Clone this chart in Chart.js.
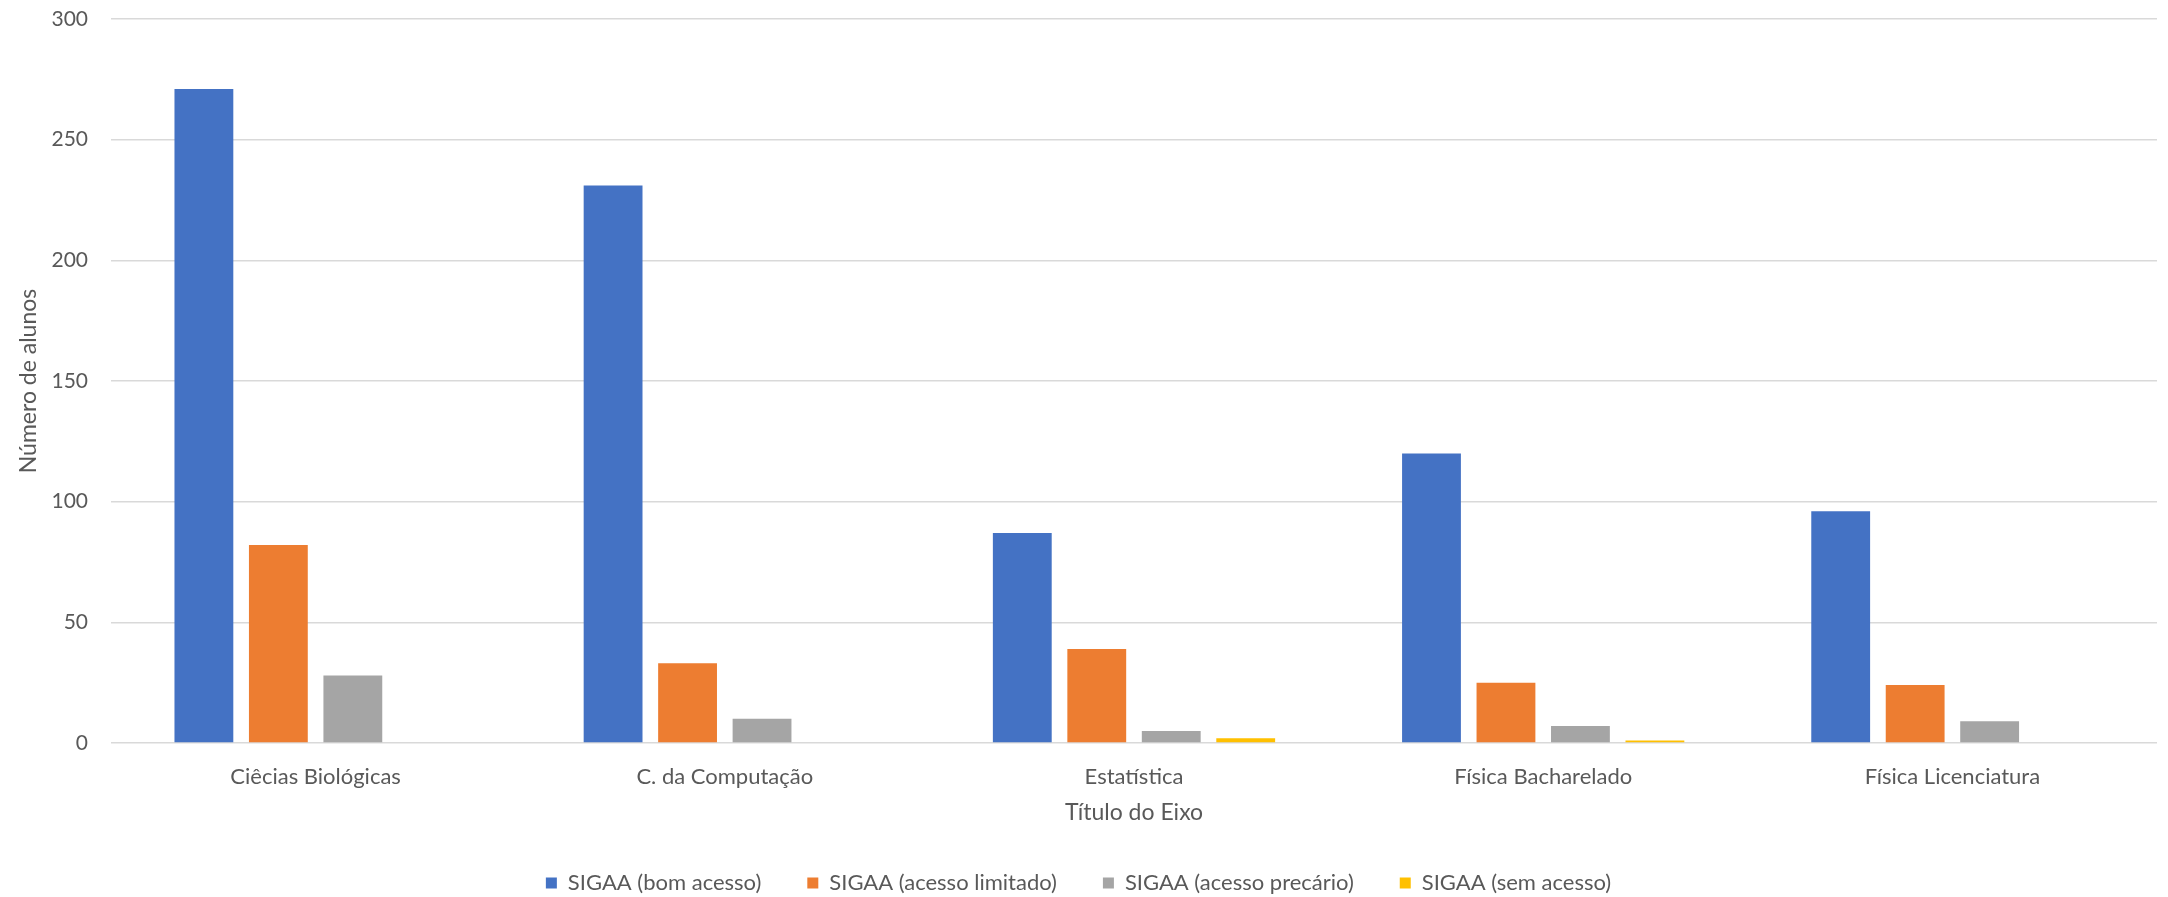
<!DOCTYPE html>
<html lang="pt">
<head>
  <meta charset="UTF-8" />
  <title>SIGAA por curso</title>
  <script src="https://cdn.jsdelivr.net/npm/chart.js"></script>
  <style>
    html, body { margin:0; padding:0; background:#fff; }
    #wrap { width:2168px; height:897px; }
  </style>
</head>
<body>
  <div id="wrap"><canvas id="chart" width="2168" height="897"></canvas></div>
  <script>
    // data
    const cursos = ['Ciêcias Biológicas', 'C. da Computação', 'Estatística', 'Física Bacharelado', 'Física Licenciatura'];
    const bomAcesso      = [271, 231, 87, 120, 96];
    const acessoLimitado = [82, 33, 39, 25, 24];
    const acessoPrecario = [28, 10, 5, 7, 9];
    const semAcesso      = [0, 0, 2, 1, 0];
    const yTicks = [0, 50, 100, 150, 200, 250, 300];

    const FONT = 'Lato, "Open Sans", Arial, sans-serif';
    const TXT = '#595959';

    function ds(label, data, color) {
      return { label, data, backgroundColor: color, borderWidth: 0,
               categoryPercentage: 0.728, barPercentage: 0.79 };
    }

    new Chart(document.getElementById('chart'), {
      type: 'bar',
      data: {
        labels: cursos,
        datasets: [
          ds('SIGAA (bom acesso)', bomAcesso, '#4472C4'),
          ds('SIGAA (acesso limitado)', acessoLimitado, '#ED7D31'),
          ds('SIGAA (acesso precário)', acessoPrecario, '#A5A5A5'),
          ds('SIGAA (sem acesso)', semAcesso, '#FFC000')
        ]
      },
      options: {
        responsive: false,
        animation: false,
        layout: { padding: { top: 19, right: 11, left: 0, bottom: -7 } },
        plugins: {
          tooltip: { enabled: false },
          legend: {
            position: 'bottom',
            labels: { color: TXT, font: { family: FONT, size: 22 }, boxWidth: 11, boxHeight: 11, padding: 46 }
          }
        },
        scales: {
          x: {
            afterFit: axis => { axis.height = 83; },
            grid: { display: false },
            border: { display: false },
            ticks: { color: TXT, font: { family: FONT, size: 22 }, padding: 13 },
            title: { display: true, text: 'Título do Eixo', color: TXT, font: { family: FONT, size: 23 }, padding: { top: 4, bottom: 0 } }
          },
          y: {
            min: 0, max: 300,
            afterBuildTicks: axis => { axis.ticks = yTicks.map(v => ({ value: v })); },
            afterFit: axis => { axis.width = 111; axis.paddingTop = 0; axis.paddingBottom = 0; },
            grid: { color: '#d9d9d9', lineWidth: 1.5, drawTicks: false },
            border: { display: false },
            ticks: { color: TXT, font: { family: FONT, size: 21 }, padding: 23 },
            title: { display: true, text: 'Número de alunos', color: TXT, font: { family: FONT, size: 23 }, padding: { top: 15, bottom: 15 } }
          }
        }
      }
    });
  </script>
</body>
</html>
